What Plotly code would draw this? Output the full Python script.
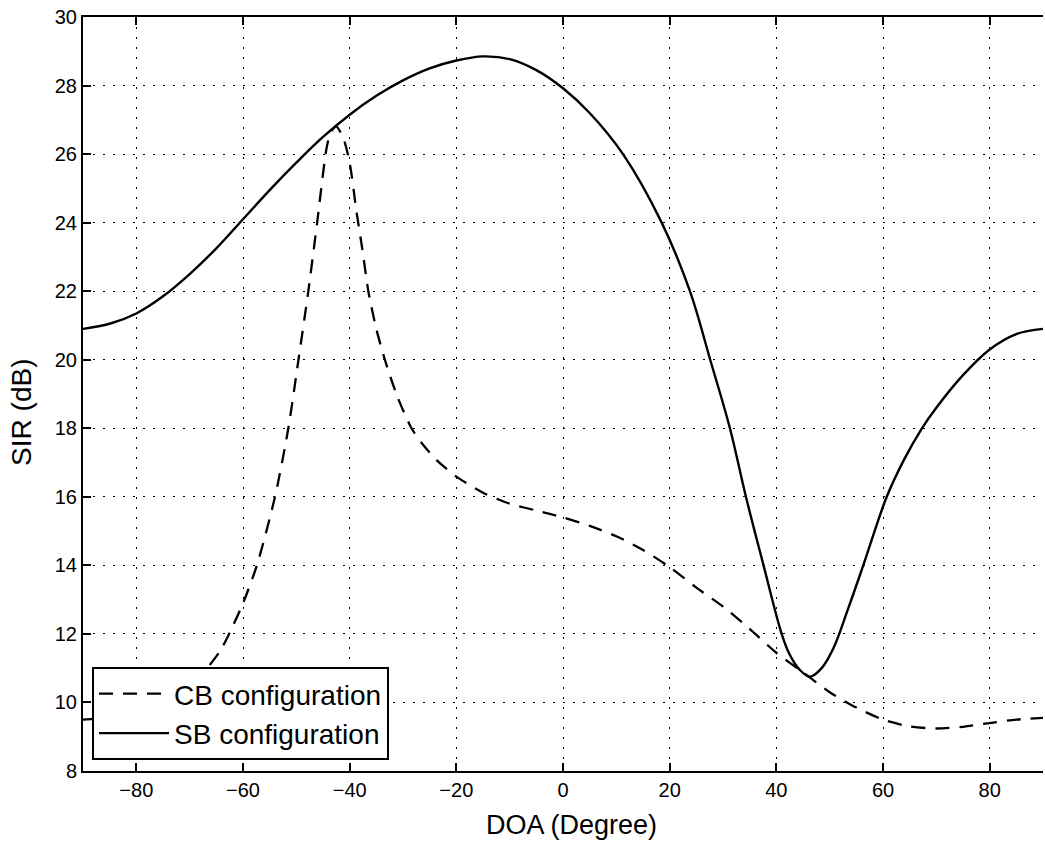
import plotly.graph_objects as go

# SB configuration (solid)
sb_x = [-90, -85, -80, -75, -70, -65, -60, -55, -50, -45, -40, -35, -30, -25, -20, -15, -10, -5, 0, 5, 11.25, 18.5, 23.8, 27.6, 31.3, 34.3, 37.6, 41, 42.4, 44.4, 46.3, 48.5, 50.7, 53.5, 56.3, 60.7, 64, 67.3, 70, 75, 80, 85, 90]
sb_y = [20.9, 21.05, 21.35, 21.85, 22.5, 23.25, 24.1, 24.95, 25.75, 26.5, 27.15, 27.7, 28.15, 28.5, 28.73, 28.85, 28.77, 28.45, 27.92, 27.2, 26.0, 24.0, 22.0, 20.0, 18.0, 16.0, 14.0, 12.0, 11.43, 10.95, 10.75, 11.0, 11.58, 12.75, 14.0, 16.0, 17.1, 18.0, 18.6, 19.55, 20.3, 20.75, 20.9]

# CB configuration (dashed)
cb_x = [-90, -85, -80, -75, -70, -68, -64.3, -62, -60, -57.4, -54, -51.5, -49.6, -47.75, -46.1, -44.3, -43.5, -42.5, -41.2, -40, -38.7, -37.6, -36.5, -35, -33.4, -31, -28.4, -26.2, -23.7, -20, -15, -10, -5, 0, 5, 10, 15, 20, 25, 30, 35, 40, 45, 50, 55, 60, 65, 70, 75, 80, 85, 90]
cb_y = [9.5, 9.55, 9.7, 9.95, 10.4, 10.75, 11.5, 12.2, 12.89, 14.0, 16.0, 18.0, 20.0, 22.0, 24.0, 26.2, 26.65, 26.8, 26.47, 25.75, 24.3, 23.2, 22.0, 20.9, 20.0, 18.9, 18.0, 17.51, 17.07, 16.59, 16.12, 15.8, 15.6, 15.4, 15.15, 14.85, 14.45, 13.95, 13.35, 12.8, 12.15, 11.45, 10.88, 10.3, 9.85, 9.5, 9.3, 9.24, 9.29, 9.4, 9.5, 9.55]

x_ticks = [-80, -60, -40, -20, 0, 20, 40, 60, 80]
y_ticks = [8, 10, 12, 14, 16, 18, 20, 22, 24, 26, 28, 30]

FONT = "Liberation Sans, Arial, Helvetica, sans-serif"

fig = go.Figure()
fig.add_trace(go.Scatter(
    x=cb_x, y=cb_y, mode="lines", name="CB configuration",
    line=dict(color="black", width=2.3, dash="14px,10px", shape="spline", smoothing=0.7),
))
fig.add_trace(go.Scatter(
    x=sb_x, y=sb_y, mode="lines", name="SB configuration",
    line=dict(color="black", width=2.4, shape="spline", smoothing=1.0),
))

axis_common = dict(
    showgrid=True, gridcolor="black", gridwidth=1.3, griddash="2px,8px",
    zeroline=False, showline=True, linecolor="black", linewidth=2,
    ticks="inside", ticklen=8, tickwidth=2, tickcolor="black",
    tickfont=dict(family=FONT, size=20, color="black"),
)

fig.update_xaxes(range=[-90, 90], tickvals=x_ticks, mirror="ticks", **axis_common)
fig.update_yaxes(range=[8, 30], tickvals=y_ticks, mirror=False, **axis_common)

fig.add_annotation(
    text="DOA (Degree)", xref="paper", yref="paper", x=0.509, y=-0.0716,
    xanchor="center", yanchor="middle", showarrow=False,
    font=dict(family=FONT, size=27, color="black"),
)
fig.add_annotation(
    text="SIR (dB)", xref="paper", yref="paper", x=-0.0635, y=0.475,
    xanchor="center", yanchor="middle", showarrow=False, textangle=-90,
    font=dict(family=FONT, size=28, color="black"),
)

fig.update_layout(
    width=1045, height=849,
    margin=dict(l=83, r=2, t=17, b=78),
    paper_bgcolor="white", plot_bgcolor="white",
    showlegend=True,
    legend=dict(
        x=0.0094, y=0.0146, xanchor="left", yanchor="bottom",
        bgcolor="white", bordercolor="black", borderwidth=2,
        font=dict(family=FONT, size=28, color="black"),
        tracegroupgap=0, itemwidth=70,
    ),
)

fig.write_html("out.html")
